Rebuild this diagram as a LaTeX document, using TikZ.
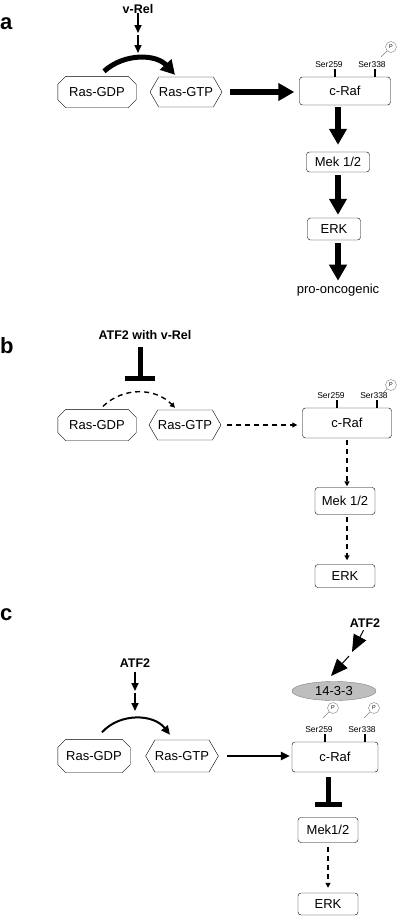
\documentclass[tikz,border=0pt]{standalone}
\usepackage{fontspec}
\setmainfont{Liberation Sans}
\usetikzlibrary{arrows.meta,shapes.symbols,shapes.geometric}
\definecolor{mygray}{HTML}{BEBEBE}
\tikzset{
  panel/.style={anchor=base west, inner sep=0pt, font=\fontsize{22}{24}\bfseries},
  bold/.style={inner sep=0pt, font=\fontsize{12.5}{14}\bfseries},
  box/.style={draw, rounded corners=3pt, fill=white, inner sep=0pt},
  gdp/.style={rectangle, inner sep=0pt, minimum width=78pt, minimum height=31pt},
  gtp/.style={draw, fill=white, signal, signal to=east and west, signal pointer angle=120,
    inner sep=0pt, minimum width=72pt, minimum height=30pt},
  site/.style={inner sep=1pt, font=\fontsize{8.5}{9}\selectfont},
  sitetick/.style={line width=1.2pt},
  pcirc/.style={circle, draw=gray, thin, fill=white, inner sep=0pt, minimum size=11pt,
    font=\fontsize{5.5}{6}\selectfont},
  pline/.style={gray, thin},
  strong/.style={line width=6pt, -{Triangle[length=16pt,width=17pt]}},
  strongcurve/.style={line width=5pt, -{Triangle[length=14pt,width=15pt]}},
  small/.style={line width=1.6pt, -{Triangle[length=8pt,width=7pt]}},
  weak/.style={line width=2.2pt, -{Triangle[length=9pt,width=8pt]}},
  big/.style={line width=1pt, -{Triangle[length=17pt,width=14pt]}},
  dashedarrow/.style={line width=1.4pt, dash pattern=on 5pt off 4pt, -{Triangle[length=5pt,width=5pt]}},
  inhibit/.style={line width=5pt, -{Bar[width=#1]}},
  inhibit/.default=30pt,
}
\newcommand{\octagon}[1]{
  \draw ([xshift=8pt]#1.north west) -- ([xshift=-8pt]#1.north east) -- ([yshift=-8pt]#1.north east)
    -- ([yshift=8pt]#1.south east) -- ([xshift=-8pt]#1.south east) -- ([xshift=8pt]#1.south west)
    -- ([yshift=8pt]#1.south west) -- ([yshift=-8pt]#1.north west) -- cycle;
}
\newcommand{\drawsites}[1]{
  \draw[sitetick] ([xshift=-10pt]raf#1.north) -- ++(0,8) coordinate (ta#1);
  \draw[sitetick] ([xshift=30pt]raf#1.north) -- ++(0,8) coordinate (tb#1);
  \node[site, anchor=south] (sa#1) at ([xshift=-6pt]ta#1) {Ser259};
  \node[site, anchor=south] (sb#1) at ([xshift=-3pt]tb#1) {Ser338};
}
\newcommand{\phospho}[2]{
  \node[pcirc] (#1) at (#2) {P};
  \draw[pline] (#1.225) -- ++(-6,-6);
}
\begin{document}
\begin{tikzpicture}[x=1pt, y=1pt, every node/.style={font=\fontsize{13}{15}\selectfont}]
  \useasboundingbox (0,0) rectangle (400,-919);

  % a
  \node[panel] (la) at (0,-29) {a};
  \node[bold, anchor=base] (vrel) at (138,-13) {v-Rel};
  \coordinate (va1) at (138,-33);
  \coordinate (va2) at (138,-53);
  \draw[small] (vrel) -- (va1);
  \draw[small] ([yshift=-2pt]va1) -- (va2);
  \node[gdp] (gdpa) at (97,-92) {Ras-GDP};
  \octagon{gdpa}
  \node[gtp] (gtpa) at (186,-92) {Ras-GTP};
  \draw[strongcurve] ([xshift=7pt,yshift=5pt]gdpa.north) to[bend left=45] ([xshift=-11pt,yshift=2pt]gtpa.north);
  \node[box, minimum width=91pt, minimum height=28pt] (rafa) at (345,-91) {c-Raf};
  \drawsites{a}
  \phospho{pa}{391,-47}
  \node[box, minimum width=63pt, minimum height=20pt] (meka) at (338,-162) {Mek 1/2};
  \node[box, minimum width=53pt, minimum height=22pt] (erka) at (334,-229) {ERK};
  \node[inner sep=0pt] (pro) at (338,-290) {pro-oncogenic};
  \draw[strong, shorten <=8pt, shorten >=5pt] (gtpa.east) -- (gtpa.east -| rafa.west);
  \draw[strong, shorten <=2pt, shorten >=7pt] (meka.north |- rafa.south) -- (meka.north);
  \draw[strong, shorten <=3pt, shorten >=3pt] (meka.south) -- (meka.south |- erka.north);
  \draw[strong, shorten <=3pt, shorten >=3pt] (meka.south |- erka.south) -- (meka.south |- pro.north);

  % b
  \node[panel] (lb) at (0,-353) {b};
  \node[bold] (atfb) at (145,-335) {ATF2 with v-Rel};
  \coordinate (ib) at (140,-381);
  \draw[inhibit, shorten <=7pt] (atfb.south -| ib) -- (ib);
  \node[gdp] (gdpb) at (97,-425) {Ras-GDP};
  \octagon{gdpb}
  \node[gtp] (gtpb) at (185,-425) {Ras-GTP};
  \draw[dashedarrow] ([xshift=6pt,yshift=3pt]gdpb.north) to[bend left=45] ([xshift=-10pt,yshift=2pt]gtpb.north);
  \node[box, minimum width=89pt, minimum height=30pt] (rafb) at (347,-423) {c-Raf};
  \drawsites{b}
  \phospho{pb}{391,-385}
  \node[box, minimum width=60pt, minimum height=27pt] (mekb) at (345,-501) {Mek 1/2};
  \node[box, minimum width=60pt, minimum height=23pt] (erkb) at (345,-576) {ERK};
  \draw[dashedarrow, shorten <=6pt, shorten >=5pt] (gtpb.east) -- (gtpb.east -| rafb.west);
  \draw[dashedarrow, shorten <=2pt, shorten >=1pt] (rafb.south) -- (rafb.south |- mekb.north);
  \draw[dashedarrow, shorten <=2pt, shorten >=4pt] (rafb.south |- mekb.south) -- (rafb.south |- erkb.north);

  % c
  \node[panel] (lc) at (0,-620) {c};
  \node[bold] (atfc) at (135,-663) {ATF2};
  \coordinate (vc1) at (135,-691);
  \coordinate (vc2) at (135,-711);
  \draw[small, shorten <=4pt] (atfc) -- (vc1);
  \draw[small] ([yshift=-2pt]vc1) -- (vc2);
  \node[gdp, minimum width=72pt, minimum height=33pt] (gdpc) at (94,-756) {Ras-GDP};
  \octagon{gdpc}
  \node[gtp, minimum width=70pt, minimum height=32pt] (gtpc) at (182,-756) {Ras-GTP};
  \draw[weak, line width=2pt] ([xshift=8pt,yshift=7pt]gdpc.north) to[bend left=50] ([xshift=-12pt,yshift=5pt]gtpc.north);
  \node[box, minimum width=86pt, minimum height=30pt] (rafc) at (335,-757) {c-Raf};
  \drawsites{c}
  \phospho{pc1}{333,-708}
  \phospho{pc2}{374,-708}
  \node[ellipse, draw=gray, fill=mygray, inner sep=0pt, minimum width=84pt, minimum height=19pt] (e1433) at (334,-691) {14-3-3};
  \node[bold] (atfd) at (365,-623) {ATF2};
  \coordinate (dc1) at (352,-652);
  \coordinate (dc2) at (331,-676);
  \draw[big, shorten <=3pt] (atfd.south) -- (dc1);
  \draw[big] ([shift={(-3pt,-4pt)}]dc1) -- (dc2);
  \node[box, minimum width=60pt, minimum height=25pt] (mekc) at (328,-830) {Mek1/2};
  \node[box, minimum width=60pt, minimum height=22pt] (erkc) at (328,-904) {ERK};
  \draw[weak, line width=2.5pt, shorten <=8pt, shorten >=2pt] (gtpc.east) -- (gtpc.east -| rafc.west);
  \draw[inhibit=27pt, shorten <=5pt, shorten >=10pt] (mekc.north |- rafc.south) -- (mekc.north);
  \draw[dashedarrow, shorten <=4pt, shorten >=5pt] (mekc.south) -- (erkc.north);
\end{tikzpicture}
\end{document}
